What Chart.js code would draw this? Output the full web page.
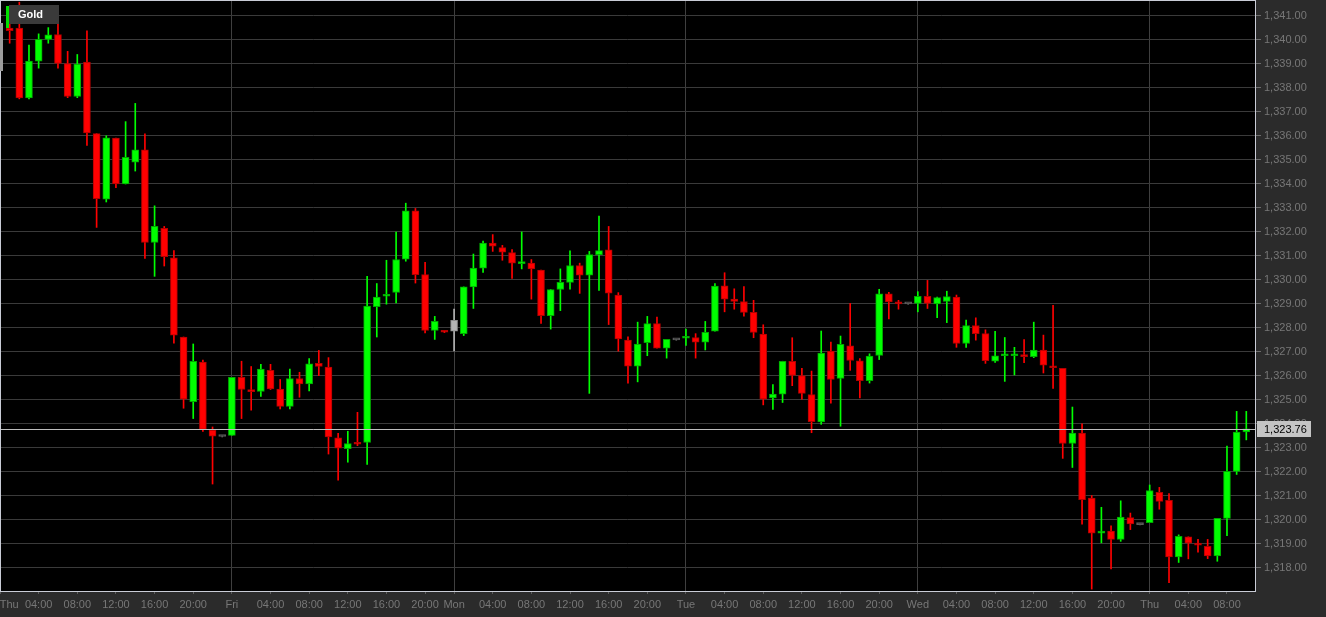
<!DOCTYPE html>
<html>
<head>
<meta charset="utf-8">
<title>Gold</title>
<script src="https://cdn.jsdelivr.net/npm/chart.js@4.4.1/dist/chart.umd.min.js"></script>
<style>
  html, body { margin: 0; padding: 0; background: #2b2b2b; overflow: hidden; }
  canvas { display: block; }
</style>
</head>
<body>
<canvas id="chart" width="1326" height="617"></canvas>
<script>
// hourly candles, slot 0 = Thu 00:00 (Friday has 23 slots, no weekend)
const firstSlot = 1;
const opens = [
  1340.47, 1340.47, 1337.56, 1339.09, 1340.00, 1340.20, 1338.99, 1337.62, 1339.05, 1336.07,
  1333.34, 1335.88, 1333.97, 1334.88, 1335.39, 1331.53, 1332.12, 1330.89, 1327.59, 1324.89,
  1326.55, 1323.71, 1323.44, 1323.49, 1325.91, 1325.39, 1325.32, 1326.20, 1325.42, 1324.70,
  1325.86, 1325.63, 1326.49, 1326.34, 1323.39, 1322.93, 1323.15, 1323.19, 1328.85, 1329.29,
  1329.45, 1330.84, 1332.85, 1330.19, 1327.86, 1327.83, 1327.83, 1327.73, 1329.68, 1330.46,
  1331.51, 1331.32, 1331.11, 1330.65, 1330.67, 1330.38, 1328.48, 1329.57, 1329.87, 1330.57,
  1330.17, 1331.02, 1331.22, 1329.34, 1327.46, 1326.37, 1327.35, 1328.15, 1327.12, 1327.47,
  1327.54, 1327.57, 1327.38, 1327.83, 1329.72, 1329.17, 1329.07, 1328.62, 1327.71, 1325.05,
  1325.21, 1326.58, 1325.98, 1325.19, 1324.05, 1327.00, 1325.86, 1327.22, 1326.60, 1325.77,
  1326.82, 1329.39, 1329.02, 1328.97, 1328.99, 1329.29, 1328.97, 1329.07, 1329.26, 1327.32,
  1328.07, 1327.73, 1326.58, 1326.81, 1326.81, 1326.85, 1326.77, 1327.05, 1326.39, 1326.28,
  1323.15, 1323.58, 1320.87, 1319.41, 1319.50, 1319.15, 1320.06, 1319.77, 1319.85, 1321.11,
  1320.78, 1318.42, 1319.26, 1318.96, 1318.86, 1318.46, 1320.03, 1321.99, 1323.63
];
const highs = [
  1340.75, 1341.55, 1339.76, 1340.23, 1340.49, 1340.92, 1339.50, 1339.37, 1340.36, 1336.07,
  1335.98, 1335.88, 1336.57, 1337.33, 1336.06, 1333.06, 1332.20, 1331.19, 1327.59, 1327.30,
  1326.63, 1323.84, 1323.47, 1325.91, 1326.58, 1326.36, 1326.45, 1326.45, 1325.82, 1326.25,
  1326.12, 1326.69, 1327.03, 1326.73, 1323.57, 1323.66, 1324.45, 1330.12, 1329.82, 1330.79,
  1331.97, 1333.17, 1332.95, 1330.70, 1328.45, 1327.85, 1328.75, 1329.68, 1331.05, 1331.59,
  1331.86, 1331.41, 1331.24, 1331.97, 1330.82, 1330.38, 1329.57, 1330.43, 1331.18, 1330.67,
  1331.16, 1332.63, 1332.20, 1329.44, 1327.60, 1328.21, 1328.45, 1328.42, 1327.49, 1327.49,
  1327.92, 1327.73, 1328.24, 1329.82, 1330.27, 1329.60, 1329.69, 1329.12, 1328.10, 1325.61,
  1326.58, 1327.56, 1326.28, 1326.17, 1327.84, 1327.38, 1327.63, 1328.99, 1326.69, 1326.89,
  1329.58, 1329.45, 1329.12, 1328.99, 1329.48, 1329.95, 1329.26, 1329.50, 1329.34, 1328.30,
  1328.39, 1327.89, 1327.83, 1327.57, 1327.16, 1327.48, 1328.21, 1327.67, 1328.91, 1326.28,
  1324.67, 1323.97, 1320.98, 1320.49, 1319.72, 1320.76, 1320.25, 1319.79, 1321.42, 1321.32,
  1321.06, 1319.34, 1319.26, 1319.15, 1319.15, 1320.03, 1323.04, 1324.49, 1324.49
];
const lows = [
  1339.84, 1337.52, 1337.52, 1338.80, 1339.84, 1338.80, 1337.57, 1337.57, 1335.58, 1332.16,
  1333.22, 1333.82, 1333.97, 1334.51, 1330.87, 1330.12, 1330.55, 1327.33, 1324.62, 1324.19,
  1323.65, 1321.46, 1323.42, 1323.49, 1324.19, 1324.54, 1325.11, 1325.40, 1324.59, 1324.59,
  1325.08, 1325.34, 1325.98, 1322.71, 1321.62, 1322.37, 1323.06, 1322.28, 1327.59, 1328.96,
  1329.01, 1330.75, 1329.84, 1327.76, 1327.49, 1327.77, 1327.01, 1327.65, 1328.78, 1330.28,
  1331.16, 1330.79, 1330.03, 1330.43, 1329.17, 1328.16, 1327.92, 1328.69, 1329.58, 1329.41,
  1325.24, 1329.53, 1328.11, 1327.00, 1325.67, 1325.72, 1326.81, 1327.12, 1326.71, 1327.45,
  1327.24, 1326.71, 1327.05, 1327.83, 1328.64, 1328.75, 1328.46, 1327.56, 1324.76, 1324.57,
  1324.86, 1325.56, 1325.00, 1323.60, 1323.95, 1324.83, 1323.87, 1326.20, 1325.05, 1325.67,
  1326.65, 1328.34, 1328.75, 1328.95, 1328.64, 1328.78, 1328.40, 1328.19, 1327.16, 1327.16,
  1327.46, 1326.49, 1326.53, 1325.74, 1326.01, 1326.52, 1326.73, 1326.09, 1325.45, 1322.53,
  1322.15, 1319.79, 1317.08, 1319.01, 1317.92, 1319.07, 1319.56, 1319.75, 1319.85, 1320.41,
  1317.35, 1318.19, 1318.34, 1318.62, 1318.35, 1318.24, 1319.31, 1321.86, 1323.30
];
const closes = [
  1340.36, 1337.56, 1339.09, 1340.00, 1340.19, 1339.00, 1337.62, 1338.97, 1336.10, 1333.36,
  1335.90, 1333.97, 1335.08, 1335.39, 1331.53, 1332.20, 1330.94, 1327.67, 1325.00, 1326.58,
  1323.74, 1323.46, 1323.44, 1325.91, 1325.40, 1325.31, 1326.25, 1325.43, 1324.70, 1325.86,
  1325.63, 1326.47, 1326.36, 1323.42, 1322.96, 1323.15, 1323.12, 1328.88, 1329.26, 1329.36,
  1330.82, 1332.85, 1330.19, 1327.86, 1328.24, 1327.79, 1328.29, 1329.68, 1330.46, 1331.51,
  1331.38, 1331.13, 1330.67, 1330.68, 1330.43, 1328.48, 1329.57, 1329.87, 1330.57, 1330.17,
  1331.03, 1331.19, 1329.42, 1327.51, 1326.37, 1327.30, 1328.15, 1327.12, 1327.49, 1327.47,
  1327.60, 1327.38, 1327.79, 1329.71, 1329.17, 1329.07, 1328.62, 1327.78, 1325.00, 1325.21,
  1326.58, 1325.99, 1325.24, 1324.06, 1326.92, 1325.82, 1327.28, 1326.61, 1325.77, 1326.79,
  1329.39, 1329.05, 1328.97, 1328.97, 1329.29, 1328.99, 1329.23, 1329.28, 1327.32, 1328.07,
  1327.73, 1326.60, 1326.81, 1326.84, 1326.87, 1326.77, 1327.05, 1326.42, 1326.31, 1323.15,
  1323.58, 1320.81, 1319.41, 1319.50, 1319.15, 1320.08, 1319.80, 1319.77, 1321.19, 1320.74,
  1318.42, 1319.28, 1318.99, 1318.91, 1318.46, 1320.03, 1321.99, 1323.63, 1323.76
];
// candles the source draws in grey
const greySlots = [23, 47, 70, 94, 118];

const tickSlots = [0, 4, 8, 12, 16, 20, 24, 28, 32, 36, 40, 44, 47, 51, 55, 59, 63, 67,
  71, 75, 79, 83, 87, 91, 95, 99, 103, 107, 111, 115, 119, 123, 127];
const tickLabels = ["Thu", "04:00", "08:00", "12:00", "16:00", "20:00", "Fri", "04:00", "08:00",
  "12:00", "16:00", "20:00", "Mon", "04:00", "08:00", "12:00", "16:00", "20:00", "Tue", "04:00",
  "08:00", "12:00", "16:00", "20:00", "Wed", "04:00", "08:00", "12:00", "16:00", "20:00", "Thu",
  "04:00", "08:00"];
const priceTicks = [1318, 1319, 1320, 1321, 1322, 1323, 1324, 1325, 1326, 1327, 1328, 1329,
  1330, 1331, 1332, 1333, 1334, 1335, 1336, 1337, 1338, 1339, 1340, 1341];

const FONT = "'Liberation Sans', Arial, sans-serif";
const lastPrice = closes[closes.length - 1];
const fmt = (v) => v.toLocaleString("en-US", { minimumFractionDigits: 2, maximumFractionDigits: 2 });

const candleColor = (i, dark) => {
  const slot = firstSlot + i;
  if (greySlots.includes(slot)) {
    return opens[i] === closes[i] ? "#5a5a5a" : (dark ? "#8c8c8c" : "#b4b4b4");
  }
  if (closes[i] >= opens[i]) return dark ? "#00a800" : "#00ff00";
  return dark ? "#b00000" : "#ff0000";
};

const bodies = opens.map((o, i) => ({ x: firstSlot + i, y: [o, closes[i]] }));
const wicks = opens.map((o, i) => ({ x: firstSlot + i, y: [lows[i], highs[i]] }));
const fills = opens.map((o, i) => candleColor(i, false));
const edges = opens.map((o, i) => candleColor(i, true));

const chartFrame = {
  id: "chartFrame",
  beforeDraw (chart) {
    const { ctx, chartArea: a } = chart;
    ctx.save();
    ctx.fillStyle = "#000000";
    ctx.fillRect(a.left, a.top, a.right - a.left, a.bottom - a.top);
    ctx.restore();
  },
  afterDatasetsDraw (chart) {
    const { ctx, chartArea: a } = chart;
    const y = Math.round(chart.scales.y.getPixelForValue(lastPrice)) + 0.5;
    ctx.save();
    ctx.strokeStyle = "#bdbdbd";
    ctx.lineWidth = 1;
    ctx.beginPath();
    ctx.moveTo(a.left, y);
    ctx.lineTo(a.right, y);
    ctx.stroke();
    ctx.restore();
  },
  afterDraw (chart) {
    const { ctx, chartArea: a } = chart;
    ctx.save();
    // plot border
    ctx.strokeStyle = "#c9ccd6";
    ctx.lineWidth = 1;
    ctx.strokeRect(a.left + 0.5, a.top - 0.5, a.right - a.left, a.bottom - a.top + 1);

    // last price tag
    const y = Math.round(chart.scales.y.getPixelForValue(lastPrice));
    ctx.fillStyle = "#c4c4c4";
    ctx.fillRect(a.right + 2, y - 8, 54, 16);
    ctx.fillStyle = "#000000";
    ctx.font = "11px " + FONT;
    ctx.textBaseline = "middle";
    ctx.textAlign = "left";
    ctx.fillText(fmt(lastPrice), a.right + 9, y + 0.5);

    // legend
    ctx.fillStyle = "#3a3a3a";
    ctx.fillRect(9, 5, 50, 19);
    ctx.fillStyle = "#00e000";
    ctx.fillRect(6, 6, 3, 22);
    ctx.fillStyle = "#ffffff";
    ctx.font = "bold 11px " + FONT;
    ctx.fillText("Gold", 18, 15);

    // scroll tab on the left edge
    ctx.fillStyle = "#9c9c9c";
    ctx.fillRect(0, 23, 3, 48);
    ctx.restore();
  },
};

const options = {
  responsive: false,
  animation: false,
  layout: {
    padding: { top: 1, left: 0, right: 0, bottom: 0 },
  },
  plugins: {
    legend: { display: false },
    tooltip: { enabled: false },
  },
  scales: {
    x: {
      type: "linear",
      min: 0,
      max: 129.9,
      offset: false,
      border: { display: false },
      grid: {
        offset: false,
        color: (c) => (c.tick && !String(tickLabels[tickSlots.indexOf(c.tick.value)]).includes(":") ? "#3f3f3f" : "rgba(0,0,0,0)"),
        tickColor: "#5c5c5c",
        tickLength: 3,
      },
      afterBuildTicks (scale) {
        scale.ticks = tickSlots.map((v) => ({ value: v }));
      },
      afterFit (scale) {
        scale.height = 26;
        scale.paddingLeft = 0;
        scale.paddingRight = 0;
      },
      ticks: {
        autoSkip: false,
        maxRotation: 0,
        padding: 4,
        color: "#777777",
        font: { family: FONT, size: 11 },
        callback (value, index) {
          return index === 0 ? "      " + tickLabels[index] : tickLabels[index];
        },
      },
    },
    y: {
      position: "right",
      min: 1317.0,
      max: 1341.6,
      border: { display: false },
      grid: {
        color: "#3a3a3a",
        tickColor: "#6e6e6e",
        tickLength: 6,
      },
      afterBuildTicks (scale) {
        scale.ticks = priceTicks.map((v) => ({ value: v }));
      },
      afterFit (scale) {
        scale.width = 71;
        scale.paddingTop = 0;
        scale.paddingBottom = 0;
      },
      ticks: {
        padding: 3,
        labelOffset: 1,
        color: "#777777",
        font: { family: FONT, size: 11 },
        callback: (v) => fmt(v),
      },
    },
  },
};

new Chart(document.getElementById("chart"), {
  type: "bar",
  data: {
    datasets: [
      {
        label: "Gold",
        data: bodies,
        backgroundColor: fills,
        borderColor: edges,
        borderWidth: 1,
        borderSkipped: false,
        barThickness: 7,
        minBarLength: 2,
        grouped: false,
      },
      {
        label: "range",
        data: wicks,
        backgroundColor: fills,
        borderWidth: 0,
        barThickness: 1,
        grouped: false,
      },
    ],
  },
  options,
  plugins: [chartFrame],
});
</script>
</body>
</html>
